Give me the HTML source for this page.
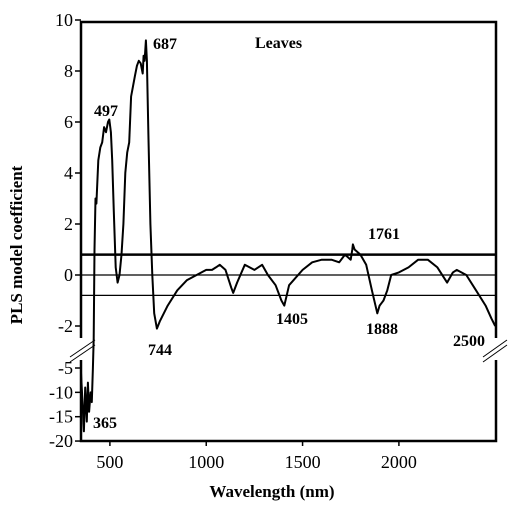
<!DOCTYPE html>
<html><head><meta charset="utf-8"><style>
body{margin:0;background:#fff}
svg text{font-family:"Liberation Serif",serif;fill:#000}
.b{font-weight:bold;font-size:16px}
.t{font-size:18px}
</style></head><body>
<svg width="511" height="509" id="c">
<text class="b" x="255" y="48">Leaves</text>
<text class="b" x="272" y="497" text-anchor="middle" style="font-size:17px">Wavelength (nm)</text>
<text class="b" x="22" y="245" text-anchor="middle" transform="rotate(-90 22 245)" style="font-size:17px">PLS model coefficient</text>
</svg>
<script>
const wl=[350,358,365,372,380,386,392,400,406,412,416,420,425,430,440,450,460,470,480,490,497,505,512,520,530,540,550,560,570,580,590,600,610,620,630,640,650,660,670,675,680,687,692,700,710,720,730,744,760,800,850,900,950,1000,1030,1050,1070,1100,1130,1140,1160,1200,1250,1290,1320,1360,1390,1405,1430,1500,1550,1600,1650,1690,1720,1750,1758,1761,1770,1800,1830,1860,1888,1900,1920,1940,1960,2000,2050,2100,2150,2200,2250,2280,2300,2350,2400,2450,2480,2500];
const coef=[-6,-12,-18,-9,-16,-8,-14,-10,-12,-5,-2.5,1,3,2.8,4.5,5,5.2,5.8,5.6,6,6.1,5.6,4.5,2.5,0.3,-0.3,0,0.8,2,4,4.8,5.2,7,7.4,7.8,8.2,8.4,8.3,7.9,8.6,8.4,9.2,8.4,5.5,2,0,-1.5,-2.1,-1.8,-1.2,-0.6,-0.2,0,0.2,0.2,0.3,0.4,0.2,-0.5,-0.7,-0.3,0.4,0.2,0.4,0,-0.4,-1,-1.2,-0.4,0.2,0.5,0.6,0.6,0.5,0.8,0.6,1.0,1.2,1.0,0.8,0.4,-0.6,-1.5,-1.2,-1.0,-0.6,0,0.1,0.3,0.6,0.6,0.3,-0.3,0.1,0.2,0,-0.6,-1.2,-1.7,-2.0];
const xTicks=[500,1000,1500,2000];
const yTicksUp=[10,8,6,4,2,0,-2];
const yTicksLow=[-5,-10,-15,-20];
const hLines=[0.8,0,-0.8];
const peaks=[["365",93,428],["497",94,116],["687",153,49],["744",148,355],["1405",276,324],["1761",368,239],["1888",366,334],["2500",453,346]];
const NS="http://www.w3.org/2000/svg",svg=document.getElementById('c');
const X=l=>81+(l-350)*0.19267;
const Y=v=>v>=-2.7?275-v*25.5:368-(v+5)*4.87;
function mk(t,a){const e=document.createElementNS(NS,t);for(const k in a)e.setAttribute(k,a[k]);svg.appendChild(e);return e;}
mk('rect',{x:81,y:22,width:415,height:419,fill:'none',stroke:'#000','stroke-width':2.5});
hLines.forEach((v,i)=>{const l=mk('line',{x1:81,x2:496,y1:Y(v),y2:Y(v),stroke:'#000','stroke-width':i==0?2.5:1.3});

});
xTicks.forEach(t=>{mk('line',{x1:X(t),x2:X(t),y1:441,y2:446,stroke:'#000','stroke-width':1.5});
const e=mk('text',{x:X(t),y:468,'text-anchor':'middle',class:'t'});e.textContent=t;

});
yTicksUp.concat(yTicksLow).forEach(t=>{const y=Y(t);mk('line',{x1:75,x2:81,y1:y,y2:y,stroke:'#000','stroke-width':1.5});
const e=mk('text',{x:73,y:y+6,'text-anchor':'end',class:'t'});e.textContent=t;

});
[[70,95],[483,507]].forEach(([a,b])=>{mk('rect',{x:a,y:338,width:b-a,height:22,fill:'#fff'});
mk('line',{x1:a,y1:357,x2:b,y2:340,stroke:'#000','stroke-width':1});mk('line',{x1:a,y1:362,x2:b,y2:345,stroke:'#000','stroke-width':1});});
const d=wl.map((l,i)=>(i?'L':'M')+X(l).toFixed(1)+','+Y(coef[i]).toFixed(1)).join('');
const p=mk('path',{d:d,fill:'none',stroke:'#000','stroke-width':2,'stroke-linejoin':'round'});


peaks.forEach(([s,x,y])=>{const e=mk('text',{x:x,y:y,class:'b'});e.textContent=s;

});
</script>
</body></html>
